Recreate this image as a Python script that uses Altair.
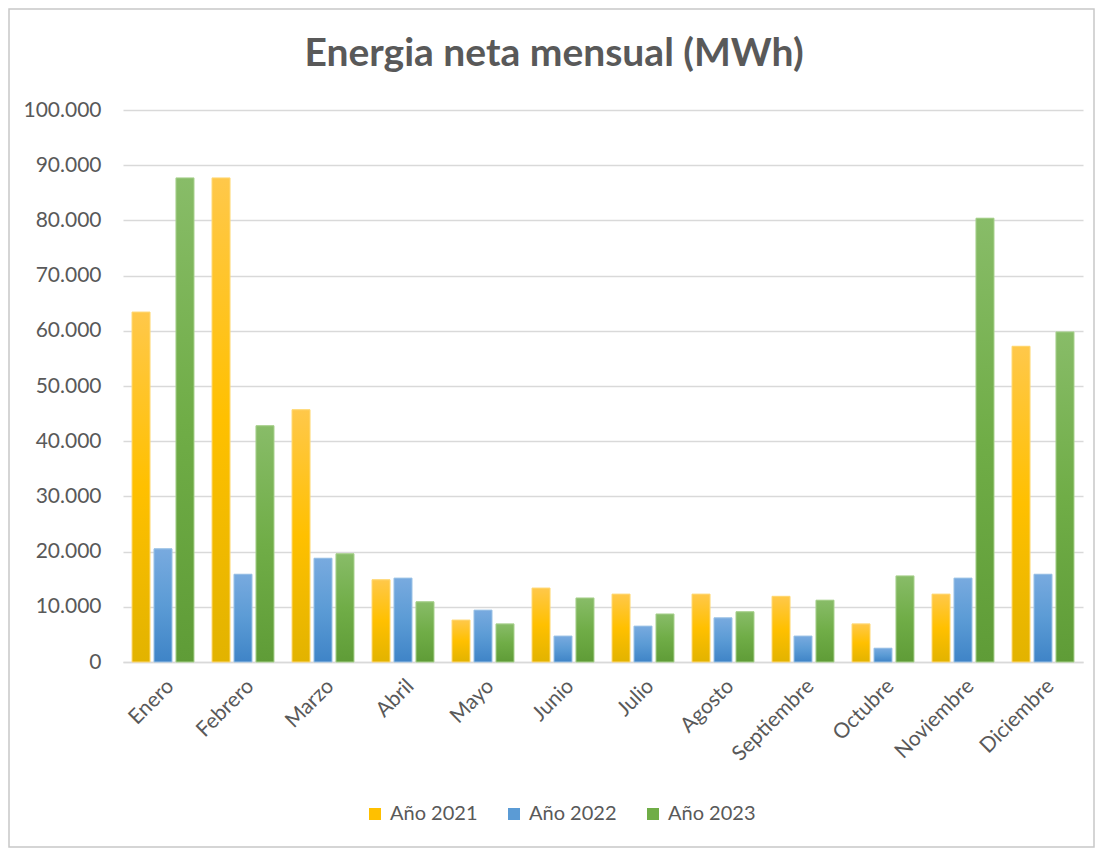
import altair as alt
import pandas as pd

titulo = "Energia neta mensual (MWh)"
meses = ["Enero", "Febrero", "Marzo", "Abril", "Mayo", "Junio", "Julio",
         "Agosto", "Septiembre", "Octubre", "Noviembre", "Diciembre"]
series = ["Año 2021", "Año 2022", "Año 2023"]
v2021 = [63400, 87700, 45700, 14900, 7600, 13400, 12300, 12300, 11900, 6900, 12300, 57200]
v2022 = [20500, 15900, 18800, 15200, 9400, 4700, 6500, 8000, 4700, 2500, 15200, 15900]
v2023 = [87700, 42800, 19600, 10900, 6900, 11600, 8700, 9100, 11200, 15600, 80400, 59800]

flat = ["#FFC000", "#5B9BD5", "#70AD47"]
grads = [
    ("#FFC84A", "#FFC000", "#E2B300"),
    ("#78AADF", "#5B9BD5", "#3F84C7"),
    ("#88BC68", "#70AD47", "#5F9C37"),
]
strokes = ["#FFD978", "#9DC3E6", "#A9D18E"]

FONT = "Lato"
GREY = "#595959"

rows = []
for s, vals in zip(series, [v2021, v2022, v2023]):
    for m, v in zip(meses, vals):
        rows.append({"mes": m, "serie": s, "valor": v})
df = pd.DataFrame(rows)

x_enc = alt.X("mes:N", sort=meses, title=None,
              scale=alt.Scale(paddingInner=0.225, paddingOuter=0.1125),
              axis=alt.Axis(labelAngle=-45, labelFontSize=21, labelColor=GREY,
                            labelFont=FONT, ticks=False, domainColor="#D9D9D9",
                            domainWidth=1.5, labelPadding=13))
y_enc = alt.Y("valor:Q", title=None,
              scale=alt.Scale(domain=[0, 100000], nice=False),
              axis=alt.Axis(values=list(range(0, 100001, 10000)), labelFontSize=21,
                            labelColor=GREY, labelFont=FONT, ticks=False,
                            domain=False, gridColor="#D9D9D9", gridWidth=1.5,
                            labelPadding=22,
                            labelExpr="replace(format(datum.value, ','), ',', '.')"))
xoff = alt.XOffset("serie:N", sort=series,
                   scale=alt.Scale(domain=series, paddingInner=0.18, paddingOuter=0))

border = alt.Chart(pd.DataFrame({"a": [0]})).mark_rect(
    fill="transparent", stroke="#C8C8C8", strokeWidth=1.5
).encode(x=alt.value(-114), x2=alt.value(971), y=alt.value(-101), y2=alt.value(737))

title_mark = alt.Chart(pd.DataFrame({"t": [titulo]})).mark_text(
    font=FONT, fontSize=39, fontWeight="bold", color=GREY,
    align="center", baseline="alphabetic"
).encode(text="t:N", x=alt.value(431), y=alt.value(-44))

base = alt.Chart(df).mark_bar().encode(
    x=x_enc, y=y_enc, xOffset=xoff,
    color=alt.Color("serie:N", sort=series,
                    scale=alt.Scale(domain=series, range=flat),
                    legend=alt.Legend(title=None, orient="none", direction="horizontal",
                                      legendX=242, legendY=694, symbolType="square",
                                      symbolSize=144, symbolStrokeWidth=0,
                                      labelFontSize=20, labelColor=GREY,
                                      labelFont=FONT, columnPadding=26, labelOffset=5,
                                      symbolOpacity=1)),
)

layers = [border, title_mark, base]
for s, (c1, c2, c3), st in zip(series, grads, strokes):
    g = alt.Gradient(gradient="linear",
                     stops=[alt.GradientStop(color=c1, offset=0),
                            alt.GradientStop(color=c2, offset=0.5),
                            alt.GradientStop(color=c3, offset=1)],
                     x1=0, x2=0, y1=0, y2=1)
    layers.append(
        alt.Chart(df).transform_filter(alt.datum.serie == s)
        .mark_bar(color=g, stroke=st, strokeWidth=1)
        .encode(x=x_enc, y=y_enc, xOffset=xoff)
    )

chart = alt.layer(*layers).properties(
    width=960, height=552,
    autosize=alt.AutoSizeParams(type="none"),
    padding={"left": 115, "top": 102, "right": 12, "bottom": 186},
).configure(background="white", view=alt.ViewConfig(stroke="transparent", strokeWidth=0))

chart.save("out.html", embed_options={"renderer": "svg", "actions": False})
